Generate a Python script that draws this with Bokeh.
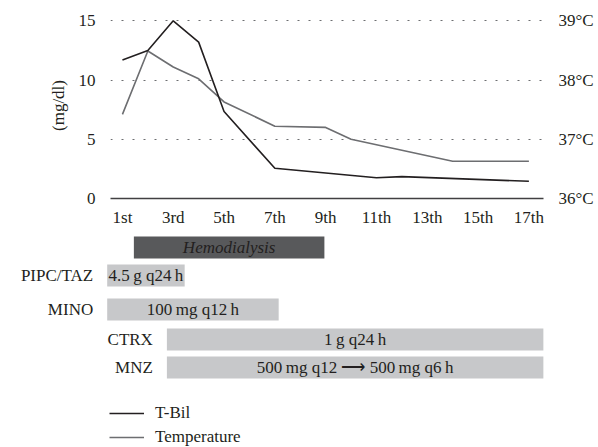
from bokeh.plotting import figure
from bokeh.models import Range1d, LinearAxis, FixedTicker, ColumnDataSource, Grid
from bokeh.core.properties import value
from bokeh.embed import file_html
from bokeh.resources import INLINE

# ---------------- data ----------------
day_ticks = [1, 3, 5, 7, 9, 11, 13, 15, 17]
day_labels = ["1st", "3rd", "5th", "7th", "9th", "11th", "13th", "15th", "17th"]

tbil_days = [1, 2, 3, 4, 5, 7, 11, 12, 17]
tbil_vals = [11.7, 12.5, 15.0, 13.2, 7.35, 2.55, 1.75, 1.85, 1.45]

temp_days = [1, 2, 3, 4, 5, 7, 9, 10, 14, 17]
temp_vals = [37.42, 38.49, 38.22, 38.02, 37.63, 37.22, 37.2, 37.0, 36.63, 36.63]

left_ticks = [0, 5, 10, 15]
temp_ticks = [36, 37, 38, 39]
temp_labels = ["36°C", "37°C", "38°C", "39°C"]

hd_label = "Hemodialysis"
hd_start = 1.45
hd_end = 8.95

drug_names = ["PIPC/TAZ", "MINO", "CTRX", "MNZ"]
drug_doses = ["4.5\u2009g q24\u2009h", "100\u2009mg q12\u2009h", "1\u2009g q24\u2009h",
              "500\u2009mg q12 \u27f6 500\u2009mg q6\u2009h"]
drug_start = [0.4, 0.4, 2.75, 2.75]
drug_end = [3.45, 7.15, 17.57, 17.57]

# ---------------- layout / style ----------------
FONT = "Liberation Serif"
FS = "17px"
TXT = "#231f20"
BLACK_LINE = "#231f20"
GRAY_LINE = "#6d6e71"

X0, X1 = 0.53, 17.575
LEFT_B = 110
FRAME_W = 433
RIGHT_B = 50
scale = FRAME_W / (X1 - X0)

Y_END = 15.7
temp_lo = 36.0
temp_hi = 36.0 + Y_END / 5.0

p = figure(output_backend="svg", toolbar_location=None,
           frame_width=FRAME_W, frame_height=186,
           min_border_left=LEFT_B, min_border_right=RIGHT_B,
           min_border_top=12, min_border_bottom=30,
           x_range=Range1d(X0, X1), y_range=Range1d(0, Y_END),
           x_axis_type=None, y_axis_type=None)
p.outline_line_color = None
p.background_fill_color = None
p.border_fill_color = None
p.extra_y_ranges = {"temp": Range1d(temp_lo, temp_hi)}

xaxis = LinearAxis(ticker=FixedTicker(ticks=day_ticks),
                   major_label_overrides={t: l for t, l in zip(day_ticks, day_labels)})
xaxis.axis_line_color = "#414042"
xaxis.axis_line_width = 1.5
xaxis.major_tick_line_color = None
xaxis.minor_tick_line_color = None
xaxis.major_label_standoff = 3
xaxis.major_label_text_font = FONT
xaxis.major_label_text_font_size = FS
xaxis.major_label_text_color = TXT
p.add_layout(xaxis, "below")

yaxis = LinearAxis(ticker=FixedTicker(ticks=left_ticks), axis_label="(mg/dl)")
yaxis.axis_line_color = None
yaxis.major_tick_line_color = None
yaxis.minor_tick_line_color = None
yaxis.major_label_standoff = 9
yaxis.major_label_text_font = FONT
yaxis.major_label_text_font_size = FS
yaxis.major_label_text_color = TXT
yaxis.axis_label_text_font = FONT
yaxis.axis_label_text_font_size = FS
yaxis.axis_label_text_font_style = "normal"
yaxis.axis_label_text_color = TXT
yaxis.axis_label_standoff = 8
p.add_layout(yaxis, "left")

raxis = LinearAxis(y_range_name="temp", ticker=FixedTicker(ticks=temp_ticks),
                   major_label_overrides={t: l for t, l in zip(temp_ticks, temp_labels)})
raxis.axis_line_color = None
raxis.major_tick_line_color = None
raxis.minor_tick_line_color = None
raxis.major_label_standoff = 9
raxis.major_label_text_font = FONT
raxis.major_label_text_font_size = FS
raxis.major_label_text_color = TXT
p.add_layout(raxis, "right")

grid = Grid(dimension=1, ticker=FixedTicker(ticks=[5, 10, 15]),
            grid_line_color="#6d6e71", grid_line_dash="2 9", grid_line_width=1)
p.add_layout(grid)

p.line(temp_days, temp_vals, y_range_name="temp", line_color=GRAY_LINE, line_width=1.6)
p.line(tbil_days, tbil_vals, line_color=BLACK_LINE, line_width=1.6)

# ---------------- bottom panel (full-width frame, same day scale) ----------------
B_W = LEFT_B + FRAME_W + RIGHT_B
q = figure(output_backend="svg", toolbar_location=None,
           frame_width=B_W, frame_height=218,
           min_border_left=0, min_border_right=0, min_border_top=0, min_border_bottom=0,
           x_range=Range1d(X0 - LEFT_B / scale, X1 + RIGHT_B / scale),
           y_range=Range1d(446, 228),
           x_axis_type=None, y_axis_type=None)
q.outline_line_color = None
q.xgrid.visible = False
q.ygrid.visible = False
q.background_fill_color = None
q.border_fill_color = None

ROW_Y = [274, 308, 338, 366]
HD_Y = 246
BAR_H = 22

q.quad(left=[hd_start], right=[hd_end], bottom=[HD_Y + BAR_H / 2], top=[HD_Y - BAR_H / 2],
       fill_color="#58595b", line_color=None)
q.text(x=[(hd_start + hd_end) / 2], y=[HD_Y], text=[hd_label],
       text_font=value(FONT), text_font_size=FS, text_font_style="italic",
       text_color="#231f20", text_align="center", text_baseline="middle")

src = ColumnDataSource(dict(
    left=drug_start, right=drug_end,
    mid=[(a + b) / 2 for a, b in zip(drug_start, drug_end)],
    y=ROW_Y, top=[y - BAR_H / 2 for y in ROW_Y], bottom=[y + BAR_H / 2 for y in ROW_Y],
    name=drug_names, dose=drug_doses))
q.quad(left="left", right="right", top="top", bottom="bottom", source=src,
       fill_color="#c7c8ca", line_color=None)
q.text(x="mid", y="y", text="dose", source=src,
       text_font=value(FONT), text_font_size=FS, text_color=TXT,
       text_align="center", text_baseline="middle")
q.text(x="left", y="y", text="name", source=src, x_offset=-14,
       text_font=value(FONT), text_font_size=FS, text_color=TXT,
       text_align="right", text_baseline="middle")

# legend keys: the two series (their values fall outside this panel's y range)
q.line(tbil_days, tbil_vals, line_color=BLACK_LINE, line_width=1.6, legend_label="T-Bil")
q.line(temp_days, temp_vals, line_color=GRAY_LINE, line_width=1.6, legend_label="Temperature")
lg = q.legend[0]
lg.location = (109, 0)
lg.margin = 0
lg.padding = 0
lg.border_line_color = None
lg.background_fill_alpha = 0
lg.glyph_width = 35
lg.glyph_height = 20
lg.label_height = 20
lg.label_standoff = 11
lg.spacing = 4
lg.label_text_font = FONT
lg.label_text_font_size = FS
lg.label_text_color = TXT

open("out.html", "w").write(file_html([p, q], INLINE))
